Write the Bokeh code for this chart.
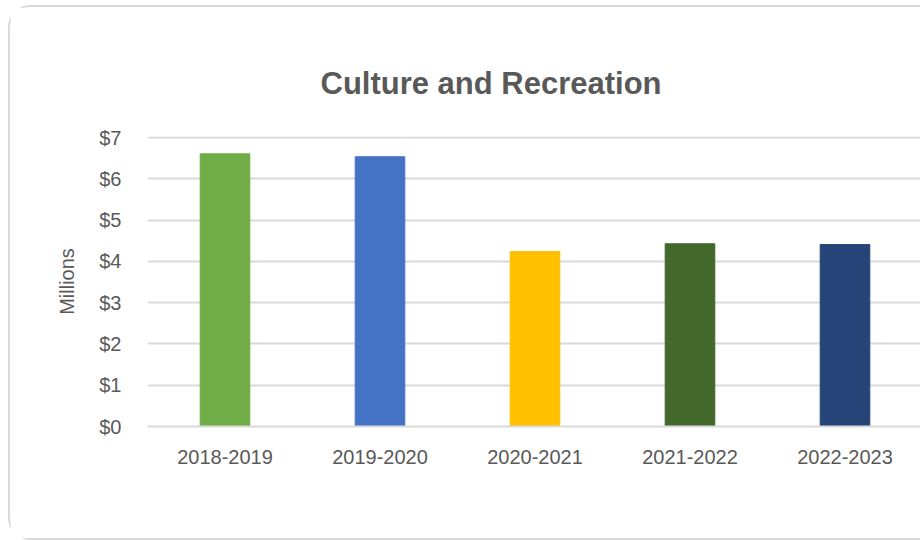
from bokeh.plotting import figure
from bokeh.models import FactorRange, Range1d, ColumnDataSource, NumeralTickFormatter, FixedTicker
from bokeh.embed import file_html
from bokeh.resources import INLINE

years = ["2018-2019", "2019-2020", "2020-2021", "2021-2022", "2022-2023"]
values = [6.61, 6.54, 4.24, 4.43, 4.41]
colors = ["#70AD47", "#4472C4", "#FFC000", "#43682B", "#264478"]
y_ticks = [0, 1, 2, 3, 4, 5, 6, 7]

FONT = "Liberation Sans"
GRAY = "#595959"

src = ColumnDataSource(dict(x=years, top=values, color=colors))

p = figure(width=912, height=535, x_range=FactorRange(*years, range_padding=0),
           y_range=Range1d(0, 7.03), output_backend="svg", toolbar_location=None,
           min_border_left=137, min_border_right=0, min_border_top=129, min_border_bottom=116)
p.margin = (5, 0, 0, 8)
p.styles = {"border-top": "2px solid #d9d9d9", "border-left": "2px solid #d9d9d9",
            "border-bottom": "2px solid #d9d9d9", "border-top-left-radius": "22px",
            "border-bottom-left-radius": "22px", "box-sizing": "border-box"}
p.outline_line_color = None
p.background_fill_color = "white"
p.border_fill_color = "white"

p.vbar(x="x", top="top", width=0.32, color="color", source=src)

p.title.text = "Culture and Recreation"
p.title.align = "left"
p.title.offset = 173
p.title.standoff = 71
p.title.text_font = FONT
p.title.text_font_size = "31px"
p.title.text_font_style = "bold"
p.title.text_color = GRAY

p.yaxis.ticker = FixedTicker(ticks=y_ticks)
p.yaxis.formatter = NumeralTickFormatter(format="$0")
p.yaxis.axis_line_color = None
p.yaxis.major_tick_line_color = None
p.yaxis.minor_tick_line_color = None
p.yaxis.major_label_text_font = FONT
p.yaxis.major_label_text_font_size = "20px"
p.yaxis.major_label_text_color = GRAY
p.yaxis.major_label_standoff = 20
p.yaxis.axis_label = "Millions"
p.yaxis.axis_label_text_font = FONT
p.yaxis.axis_label_text_font_size = "20px"
p.yaxis.axis_label_text_font_style = "normal"
p.yaxis.axis_label_text_color = GRAY
p.yaxis.axis_label_standoff = 18

p.xaxis.axis_line_color = "#d9d9d9"
p.xaxis.axis_line_width = 2
p.xaxis.major_tick_line_color = None
p.xaxis.minor_tick_line_color = None
p.xaxis.major_label_text_font = FONT
p.xaxis.major_label_text_font_size = "20px"
p.xaxis.major_label_text_color = GRAY
p.xaxis.major_label_standoff = 17

p.xgrid.grid_line_color = None
p.ygrid.grid_line_color = "#d9d9d9"
p.ygrid.grid_line_width = 2

open("out.html", "w").write(file_html(p, INLINE))
